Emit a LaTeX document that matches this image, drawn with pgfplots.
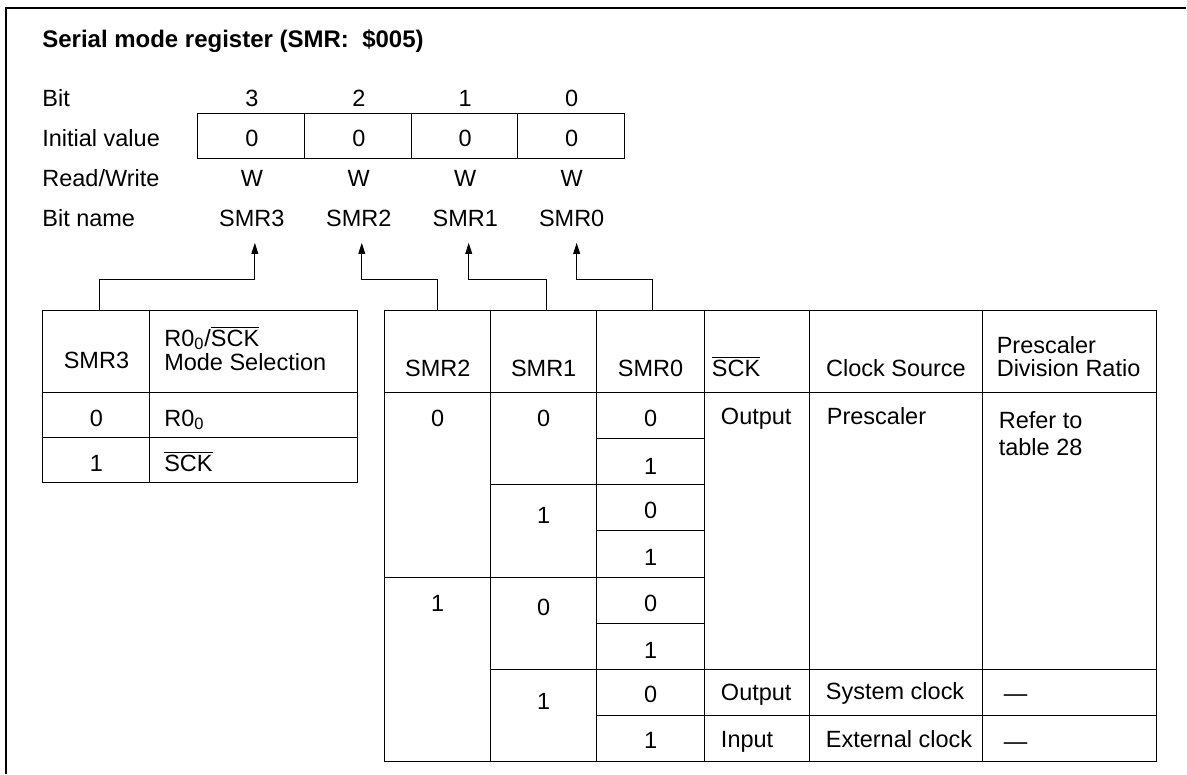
\documentclass[border=0pt]{standalone}
\usepackage{pgfplots}
\pgfplotsset{compat=1.18}
\usetikzlibrary{arrows.meta}
\usepackage{fontspec}
\setmainfont{Liberation Sans}
\newcommand\TC[3]{\node[anchor=base,inner sep=0pt] at (axis cs:#1,#2) {#3};}
\newcommand\TL[3]{\node[anchor=base west,inner sep=0pt] at (axis cs:#1,#2) {#3};}
\newcommand\ovl[1]{$\overline{\mbox{#1}}$}
\begin{document}
\fontsize{11.75pt}{14pt}\selectfont
\begin{tikzpicture}[font=\fontsize{11.75pt}{14pt}\selectfont]
\begin{axis}[scale only axis, width=593.5pt, height=387pt,
  xmin=0, xmax=1187, ymin=0, ymax=774, y dir=reverse,
  hide axis, clip=false]
% frame
\draw[line width=0.7pt] (axis cs:6,774) -- (axis cs:6,8) -- (axis cs:1187,8);
% title
\TL{42}{47.7}{\fontsize{12pt}{14pt}\selectfont\bfseries Serial mode register (SMR:\ \ \$005)}
% row labels
\TL{42}{106.7}{Bit}
\TL{42}{146.7}{Initial value}
\TL{42}{186.7}{Read/Write}
\TL{42}{226.7}{Bit name}
% bit numbers
\TC{252}{106.7}{3}\TC{359}{106.7}{2}\TC{465.5}{106.7}{1}\TC{572}{106.7}{0}
% initial value box
\draw[line width=0.5pt] (axis cs:198,114) rectangle (axis cs:625,159);
\draw[line width=0.5pt] (axis cs:305,114) -- (axis cs:305,159)
  (axis cs:412,114) -- (axis cs:412,159) (axis cs:518,114) -- (axis cs:518,159);
\TC{252}{146.7}{0}\TC{359}{146.7}{0}\TC{465.5}{146.7}{0}\TC{572}{146.7}{0}
\TC{252}{186.7}{W}\TC{359}{186.7}{W}\TC{465.5}{186.7}{W}\TC{572}{186.7}{W}
\TC{252}{226.7}{SMR3}\TC{359}{226.7}{SMR2}\TC{465.5}{226.7}{SMR1}\TC{572}{226.7}{SMR0}
% connectors
\draw[line width=0.5pt,-{Triangle[length=5.5pt,width=3.4pt]}] (axis cs:100,311) -- (axis cs:100,280) -- (axis cs:255,280) -- (axis cs:255,243);
\draw[line width=0.5pt,-{Triangle[length=5.5pt,width=3.4pt]}] (axis cs:438,311) -- (axis cs:438,280) -- (axis cs:362,280) -- (axis cs:362,243);
\draw[line width=0.5pt,-{Triangle[length=5.5pt,width=3.4pt]}] (axis cs:547,311) -- (axis cs:547,280) -- (axis cs:469,280) -- (axis cs:469,243);
\draw[line width=0.5pt,-{Triangle[length=5.5pt,width=3.4pt]}] (axis cs:653,311) -- (axis cs:653,280) -- (axis cs:577,280) -- (axis cs:577,243);
% left table
\draw[line width=0.5pt] (axis cs:43,311) rectangle (axis cs:358,483);
\draw[line width=0.5pt] (axis cs:150,311) -- (axis cs:150,483)
  (axis cs:43,393) -- (axis cs:358,393) (axis cs:43,438) -- (axis cs:358,438);
\TC{96.5}{368.4}{SMR3}
\TL{164}{346.4}{R0\textsubscript{0}/\ovl{SCK}}
\TL{164}{370.4}{Mode Selection}
\TC{96.5}{426.4}{0}\TL{164}{426.4}{R0\textsubscript{0}}
\TC{96.5}{471.4}{1}\TL{164}{471.4}{\ovl{SCK}}
% right table
\draw[line width=0.5pt] (axis cs:385,311) rectangle (axis cs:1157,762);
\draw[line width=0.5pt]
  (axis cs:491,311) -- (axis cs:491,762)
  (axis cs:597,311) -- (axis cs:597,762)
  (axis cs:705,311) -- (axis cs:705,762)
  (axis cs:810,311) -- (axis cs:810,762)
  (axis cs:983,311) -- (axis cs:983,762)
  (axis cs:385,393) -- (axis cs:1157,393)
  (axis cs:597,439) -- (axis cs:705,439)
  (axis cs:491,485) -- (axis cs:705,485)
  (axis cs:597,531) -- (axis cs:705,531)
  (axis cs:385,578) -- (axis cs:705,578)
  (axis cs:597,624) -- (axis cs:705,624)
  (axis cs:491,670) -- (axis cs:1157,670)
  (axis cs:597,716) -- (axis cs:1157,716);
% header
\TC{438}{376.4}{SMR2}\TC{544}{376.4}{SMR1}\TC{651}{376.4}{SMR0}
\TL{712}{376.4}{\ovl{SCK}}
\TC{896.5}{376.4}{Clock Source}
\TL{997}{353.4}{Prescaler}
\TL{997}{376.4}{Division Ratio}
% body
\TC{438}{426.4}{0}\TC{544}{426.4}{0}\TC{651}{426.4}{0}
\TC{651}{474.4}{1}
\TC{544}{523.4}{1}\TC{651}{518.4}{0}\TC{651}{565.4}{1}
\TC{438}{611.4}{1}\TC{544}{615.4}{0}\TC{651}{611.4}{0}\TC{651}{658.4}{1}
\TC{544}{710.4}{1}\TC{651}{703.4}{0}\TC{651}{749.4}{1}
\TL{721}{424.4}{Output}
\TL{827}{424.4}{Prescaler}
\TL{999}{428.4}{Refer to}
\TL{999}{455.4}{table 28}
\TL{721}{701.4}{Output}
\TL{826}{700.4}{System clock}
\TL{1004}{702}{—}
\TL{721}{748.4}{Input}
\TL{826}{748.4}{External clock}
\TL{1004}{750}{—}
\end{axis}
\path (current axis.south west) rectangle (current axis.north east);
\end{tikzpicture}
\end{document}
